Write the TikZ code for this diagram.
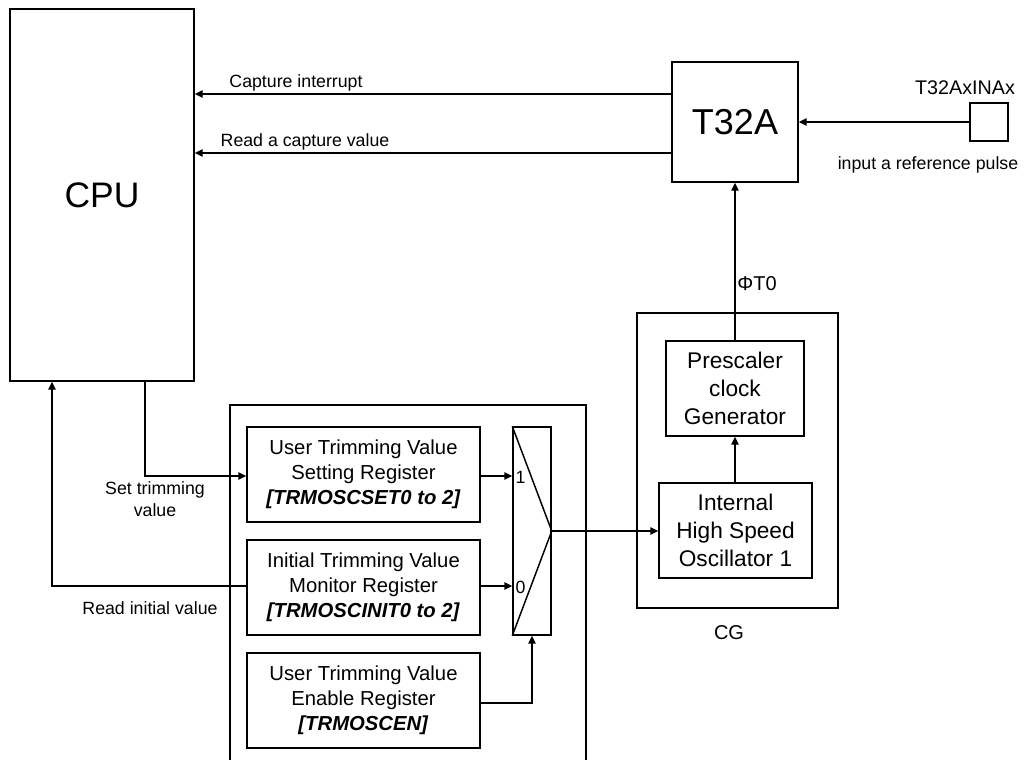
\documentclass[tikz,border=0pt]{standalone}
\usepackage{fontspec}
\setmainfont{Liberation Sans}
\usetikzlibrary{arrows.meta}
\begin{document}
\begin{tikzpicture}[x=0.75pt,y=-0.75pt,
  line width=1.1pt,
  box/.style={draw,inner sep=0pt,align=center},
  arr/.style={-{Triangle[length=6pt,width=5.5pt]}},
  lbl/.style={font=\fontsize{13.3pt}{16pt}\selectfont,inner sep=0pt},
  regbox/.style={box,minimum width=174.75pt,minimum height=71.25pt,font=\fontsize{15.2pt}{18.75pt}\selectfont},
  cgtext/.style={font=\fontsize{17pt}{21pt}\selectfont}
]
\useasboundingbox (0,0) rectangle (1029,760);
% CPU
\node (cpu) [box,minimum width=138pt,minimum height=279pt,font=\fontsize{26.6pt}{30pt}\selectfont] at (102,195) {CPU};
% T32A
\node (t32a) [box,minimum width=94.5pt,minimum height=90pt,font=\fontsize{27pt}{30pt}\selectfont] at (735,122) {T32A};
\node (pin) [box,minimum width=28.5pt,minimum height=28.5pt] at (989,122) {};
\node (pinname) [font=\fontsize{14.8pt}{17pt}\selectfont,inner sep=0pt] at (965,88) {T32AxINAx};
\node (pinlbl) [lbl] at (928,165) {input a reference pulse};
% CG
\node (cg) [box,minimum width=150.75pt,minimum height=221.25pt] at (737.5,460.5) {};
\node (cglbl) [font=\fontsize{15pt}{17pt}\selectfont,inner sep=0pt] at (729,633) {CG};
\node (presc) [box,minimum width=103.5pt,minimum height=71.25pt,cgtext] at (735,388.5) {Prescaler\\clock\\Generator};
\node (osc) [box,minimum width=114.75pt,minimum height=71.25pt,cgtext] at (735.5,530.5) {Internal\\High Speed\\Oscillator 1};
% register container
\draw (230,770) -- (230,405) -- (586,405) -- (586,770);
\node (reg1) [regbox] at (363.5,474.5) {User Trimming Value\\Setting Register\\\textbf{\textit{[TRMOSCSET0 to 2]}}};
\node (reg2) [regbox] at (363.5,587.5) {Initial Trimming Value\\Monitor Register\\\textbf{\textit{[TRMOSCINIT0 to 2]}}};
\node (reg3) [regbox] at (363.5,700.5) {User Trimming Value\\Enable Register\\\textbf{\textit{[TRMOSCEN]}}};
% mux
\node (mux) [box,minimum width=28.5pt,minimum height=156pt] at (532,531) {};
\draw (mux.north west) -- (mux.east) -- (mux.south west);
\node (m1) [lbl,anchor=west] at (515,477) {1};
\node (m0) [lbl,anchor=west] at (515,587) {0};
% connectors
\draw[arr] (t32a.west |- 0,94) -- (cpu.east |- 0,94);
\node (capl) [lbl] at (296,83) {Capture interrupt};
\draw[arr] (t32a.west |- 0,153) -- (cpu.east |- 0,153);
\node (readl) [lbl] at (305,142) {Read a capture value};
\draw[arr] (pin.west) -- (t32a.east |- pin.west);
\draw[arr] (presc.north) -- (presc.north |- t32a.south);
\node (phi) [font=\fontsize{15pt}{17pt}\selectfont,inner sep=0pt] at (757,284) {ΦT0};
\draw[arr] (osc.north -| presc.south) -- (presc.south);
\draw[arr] (mux.east) -- (osc.west |- mux.east);
\draw[arr] (reg1.east |- 0,476) -- (mux.west |- 0,476);
\draw[arr] (reg2.east |- 0,586) -- (mux.west |- 0,586);
\draw[arr] (reg3.east |- 0,703) -| (mux.south);
\draw[arr] (cpu.south -| 145,0) |- (reg1.west |- 0,476);
\node (setl) [lbl,align=center,font=\fontsize{13.3pt}{16.5pt}\selectfont] at (155,499) {Set trimming\\value};
\draw[arr] (reg2.west |- 0,586) -| (cpu.south -| 52,0);
\node (initl) [lbl] at (150,608) {Read initial value};
\end{tikzpicture}
\end{document}
